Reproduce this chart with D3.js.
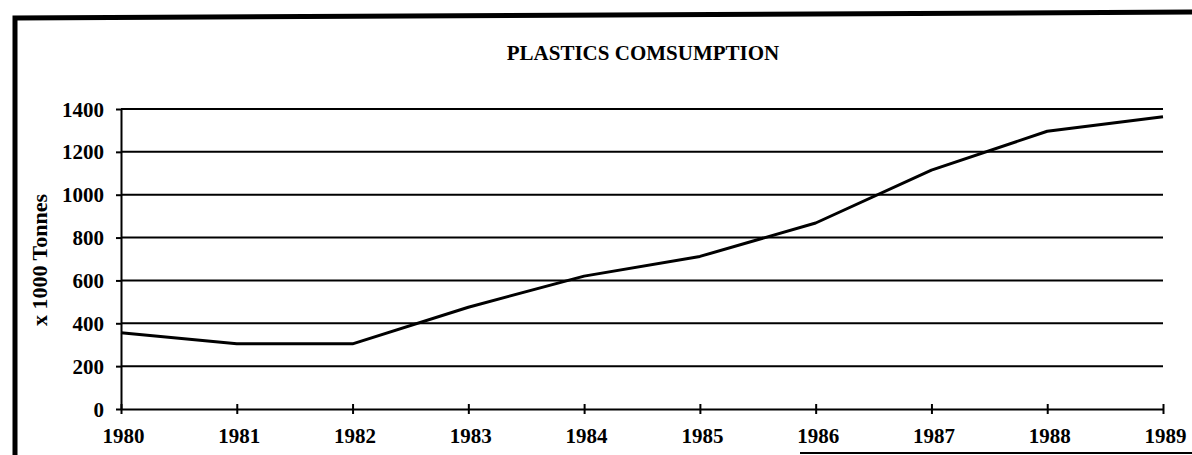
<!DOCTYPE html>
<html>
<head>
<meta charset="utf-8">
<script src="https://cdn.jsdelivr.net/npm/d3@7"></script>
<style>
  html, body { margin: 0; padding: 0; background: #fff; }
  svg { display: block; }
  text { font-family: "Liberation Serif", "Times New Roman", serif; font-weight: bold; fill: #000; }
</style>
</head>
<body>
<svg id="chart" width="1192" height="455"></svg>
<script>
const years = [1980, 1981, 1982, 1983, 1984, 1985, 1986, 1987, 1988, 1989];
const consumption = [356, 305, 304, 475, 620, 712, 868, 1115, 1296, 1364];
const yTicks = [0, 200, 400, 600, 800, 1000, 1200, 1400];
const titleText = "PLASTICS COMSUMPTION";
const yLabelText = "x 1000 Tonnes";

const svg = d3.select("#chart");
const margin = { left: 121, right: 1163, top: 109, bottom: 409 };

const x = d3.scaleLinear().domain([d3.min(years), d3.max(years)]).range([margin.left, margin.right]);
const y = d3.scaleLinear().domain([0, 1400]).range([margin.bottom, margin.top]);

// Frame (scanned page border)
svg.append("path")
  .attr("d", "M15,455 L15,18 L1192,12")
  .attr("fill", "none").attr("stroke", "#000").attr("stroke-width", 5);
svg.append("line")
  .attr("x1", 800).attr("x2", 1192).attr("y1", 453).attr("y2", 453)
  .attr("stroke", "#000").attr("stroke-width", 2);

// Gridlines
svg.append("g").selectAll("line")
  .data(yTicks.filter(d => d > 0))
  .join("line")
  .attr("x1", margin.left).attr("x2", margin.right)
  .attr("y1", d => y(d)).attr("y2", d => y(d))
  .attr("stroke", "#000").attr("stroke-width", 2);

// Y axis
const yAxis = svg.append("g")
  .attr("transform", `translate(${margin.left},0)`)
  .call(d3.axisLeft(y).tickValues(yTicks).tickFormat(d3.format("d")).tickSize(5).tickPadding(12).tickSizeOuter(0));
yAxis.select(".domain").attr("stroke", "#000").attr("stroke-width", 2);
yAxis.selectAll(".tick line").attr("stroke", "#000").attr("stroke-width", 2);
yAxis.selectAll(".tick text").style("font-size", "21px").attr("font-family", null).attr("dy", "0.34em");

// X axis
const xAxis = svg.append("g")
  .attr("transform", `translate(0,${margin.bottom})`)
  .call(d3.axisBottom(x).tickValues(years).tickFormat(d3.format("d")).tickSize(0).tickPadding(19).tickSizeOuter(0));
xAxis.select(".domain").attr("stroke", "#000").attr("stroke-width", 2);
xAxis.selectAll(".tick").append("line")
  .attr("y1", -5).attr("y2", 5).attr("stroke", "#000").attr("stroke-width", 2);
xAxis.selectAll(".tick text").style("font-size", "21px").attr("font-family", null).attr("dx", 2);

// Data line
const line = d3.line().x((d, i) => x(years[i])).y(d => y(d));
svg.append("path")
  .datum(consumption)
  .attr("d", line)
  .attr("fill", "none").attr("stroke", "#000").attr("stroke-width", 3)
  .attr("stroke-linejoin", "round");

// Title
svg.append("text")
  .attr("x", 643).attr("y", 60)
  .attr("text-anchor", "middle")
  .style("font-size", "21px")
  .text(titleText);

// Y label
svg.append("text")
  .attr("transform", "translate(47,260) rotate(-90)")
  .attr("text-anchor", "middle")
  .style("font-size", "22px")
  .text(yLabelText);
</script>
</body>
</html>
